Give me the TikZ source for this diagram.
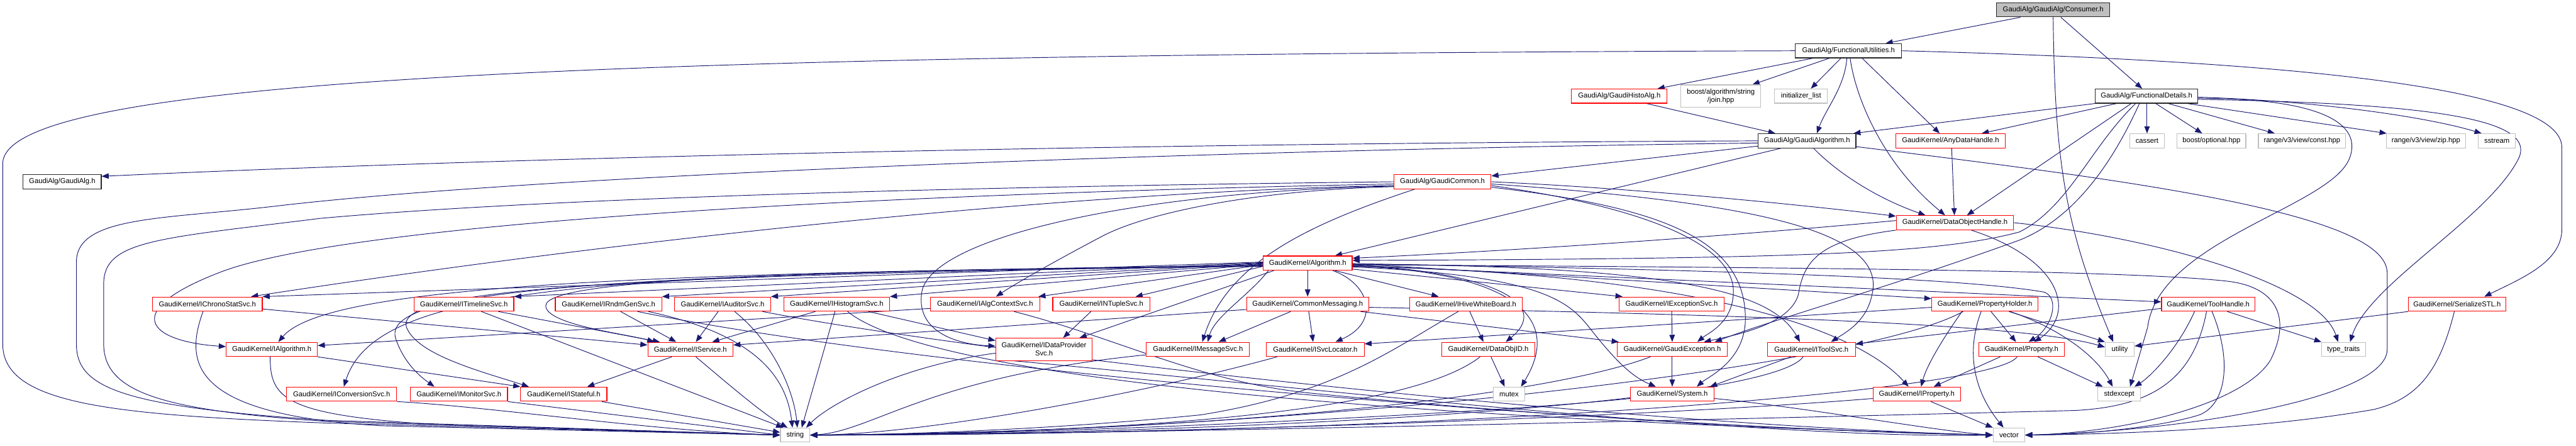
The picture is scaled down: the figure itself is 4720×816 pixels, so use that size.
\documentclass[tikz,border=0pt]{standalone}
\usepackage{fontspec}
\setmainfont{Liberation Sans}
\usetikzlibrary{arrows.meta}
\pgfdeclarelayer{bg}
\pgfsetlayers{bg,main}
\definecolor{edgec}{HTML}{191970}
\definecolor{grayb}{HTML}{BFBFBF}
\definecolor{redb}{HTML}{FF0000}
\begin{document}
\begin{tikzpicture}[x=1pt,y=-1pt,
  boxbase/.style={draw, line width=1.3pt, minimum height=26pt, inner xsep=3pt, inner ysep=0pt,
    font=\fontsize{13}{15}\selectfont, fill=white, align=center},
  redbox/.style={boxbase, draw=redb},
  blackbox/.style={boxbase, draw=black!85},
  graybox/.style={boxbase, draw=grayb},
  consbox/.style={boxbase, draw=black!85, fill=grayb},
  dep/.style={draw=edgec, line width=1.1pt, -{Triangle[length=13pt,width=10pt]}}]
\useasboundingbox (0,0) rectangle (4720,816);

% ---------- nodes ----------
\node[consbox, minimum width=207pt] (cons) at (3762,18) {GaudiAlg/GaudiAlg/Consumer.h};
\node[blackbox, minimum width=195pt] (fu) at (3387,93) {GaudiAlg/FunctionalUtilities.h};
\node[redbox, minimum width=175pt] (histo) at (2967,176) {GaudiAlg/GaudiHistoAlg.h};
\node[graybox, minimum width=146pt, minimum height=41pt] (join) at (3153,176) {boost/algorithm/string\\/join.hpp};
\node[graybox, minimum width=97pt] (initl) at (3300,176) {initializer\_list};
\node[blackbox, minimum width=188pt] (fd) at (3933,176) {GaudiAlg/FunctionalDetails.h};
\node[blackbox, minimum width=143pt] (galg) at (114,333) {GaudiAlg/GaudiAlg.h};
\node[blackbox, minimum width=179pt] (galgorithm) at (3311,258) {GaudiAlg/GaudiAlgorithm.h};
\node[redbox, minimum width=201pt] (anydh) at (3574,258) {GaudiKernel/AnyDataHandle.h};
\node[graybox, minimum width=64pt] (cassert) at (3934,258) {cassert};
\node[graybox, minimum width=126pt] (bopt) at (4052,258) {boost/optional.hpp};
\node[graybox, minimum width=160pt] (rconst) at (4218,258) {range/v3/view/const.hpp};
\node[graybox, minimum width=145pt] (rzip) at (4445,258) {range/v3/view/zip.hpp};
\node[graybox, minimum width=68pt] (sstream) at (4575,258) {sstream};
\node[redbox, minimum width=178pt] (gcommon) at (2643,333) {GaudiAlg/GaudiCommon.h};
\node[redbox, minimum width=215pt] (dohandle) at (3582,408) {GaudiKernel/DataObjectHandle.h};
\node[redbox, minimum width=163pt] (algo) at (2396,482) {GaudiKernel/Algorithm.h};

\node[redbox, minimum width=201pt] (ichrono) at (380,557) {GaudiKernel/IChronoStatSvc.h};
\node[redbox, minimum width=183pt] (itimeline) at (850,557) {GaudiKernel/ITimelineSvc.h};
\node[redbox, minimum width=195pt] (irndm) at (1115,557) {GaudiKernel/IRndmGenSvc.h};
\node[redbox, minimum width=176pt] (iauditor) at (1324,557) {GaudiKernel/IAuditorSvc.h};
\node[redbox, minimum width=194pt] (ihisto) at (1533,557) {GaudiKernel/IHistogramSvc.h};
\node[redbox, minimum width=200pt] (ialgctx) at (1805,557) {GaudiKernel/IAlgContextSvc.h};
\node[redbox, minimum width=178pt] (intuple) at (2018,557) {GaudiKernel/INTupleSvc.h};
\node[redbox, minimum width=224pt] (cmsg) at (2396,557) {GaudiKernel/CommonMessaging.h};
\node[redbox, minimum width=207pt] (ihive) at (2686,557) {GaudiKernel/IHiveWhiteBoard.h};
\node[redbox, minimum width=193pt] (iexc) at (3063,557) {GaudiKernel/IExceptionSvc.h};
\node[redbox, minimum width=195pt] (pholder) at (3637,557) {GaudiKernel/PropertyHolder.h};
\node[redbox, minimum width=171pt] (toolh) at (4046,557) {GaudiKernel/ToolHandle.h};
\node[redbox, minimum width=178pt] (serial) at (4502,557) {GaudiKernel/SerializeSTL.h};

\node[redbox, minimum width=167pt] (ialg) at (498,640) {GaudiKernel/IAlgorithm.h};
\node[redbox, minimum width=156pt] (iservice) at (1265,640) {GaudiKernel/IService.h};
\node[redbox, minimum width=177pt, minimum height=41pt] (idp) at (1913,640) {GaudiKernel/IDataProvider\\Svc.h};
\node[redbox, minimum width=189pt] (imsg) at (2195,640) {GaudiKernel/IMessageSvc.h};
\node[redbox, minimum width=179pt] (isvcloc) at (2410,640) {GaudiKernel/ISvcLocator.h};
\node[redbox, minimum width=171pt] (dobjid) at (2727,640) {GaudiKernel/DataObjID.h};
\node[redbox, minimum width=201pt] (gexc) at (3064,640) {GaudiKernel/GaudiException.h};
\node[redbox, minimum width=161pt] (itoolsvc) at (3319,640) {GaudiKernel/IToolSvc.h};
\node[redbox, minimum width=157pt] (prop) at (3704,640) {GaudiKernel/Property.h};
\node[graybox, minimum width=53pt] (utility) at (3884,640) {utility};
\node[graybox, minimum width=80pt] (typetraits) at (4294,640) {type\_traits};

\node[redbox, minimum width=202pt] (iconv) at (626,722) {GaudiKernel/IConversionSvc.h};
\node[redbox, minimum width=178pt] (imon) at (841,722) {GaudiKernel/IMonitorSvc.h};
\node[redbox, minimum width=158pt] (istate) at (1033,722) {GaudiKernel/IStateful.h};
\node[graybox, minimum width=58pt] (mutex) at (2765,722) {mutex};
\node[redbox, minimum width=153pt] (system) at (3064,722) {GaudiKernel/System.h};
\node[redbox, minimum width=160pt] (iprop) at (3512,722) {GaudiKernel/IProperty.h};
\node[graybox, minimum width=78pt] (stdexcept) at (3883,722) {stdexcept};

\node[graybox, minimum width=54pt] (string) at (1457,797) {string};
\node[graybox, minimum width=58pt] (vector) at (3681,797) {vector};

% ---------- edges ----------
\begin{pgfonlayer}{bg}
% Consumer.h
\draw[dep] ([xshift=-60pt]cons.south) -- ([xshift=68pt]fu.north);
\draw[dep] ([xshift=14pt]cons.south) -- ([xshift=-8pt]fd.north);
\draw[dep] (cons.south) .. controls (3765,300) and (3785,420) .. ([xshift=-12pt]utility.north);
% FunctionalUtilities.h
\draw[dep] (fu.west) .. controls (1000,100) and (5,150) .. (5,300) -- (5,630) .. controls (5,740) and (200,760) .. (600,775) -- (string.west);
\draw[dep] ([xshift=-65pt]fu.south) -- ([xshift=70pt]histo.north);
\draw[dep] ([xshift=-35pt]fu.south) -- ([xshift=58pt]join.north);
\draw[dep] ([xshift=-14pt]fu.south) -- ([xshift=18pt]initl.north);
\draw[dep] ([xshift=-3pt]fu.south) .. controls (3380,160) and (3345,200) .. ([xshift=18pt]galgorithm.north);
\draw[dep] ([xshift=3pt]fu.south) .. controls (3400,180) and (3450,300) .. ([xshift=-18pt]dohandle.north);
\draw[dep] ([xshift=25pt]fu.south) -- ([xshift=-20pt]anydh.north);
\draw[dep] (fu.east) .. controls (4200,112) and (4694,160) .. (4694,270) -- (4694,420) .. controls (4694,480) and (4620,510) .. ([xshift=50pt]serial.north);
% GaudiHistoAlg.h
\draw[dep] ([xshift=50pt]histo.south) -- ([xshift=-58pt]galgorithm.north);
% FunctionalDetails.h
\draw[dep] (fd.south west) -- ([xshift=85pt]galgorithm.north);
\draw[dep] ([xshift=-55pt]fd.south) -- ([xshift=57pt]anydh.north);
\draw[dep] ([xshift=-28pt]fd.south) -- ([xshift=22pt]dohandle.north);
\draw[dep] ([xshift=1pt]fd.south) -- (cassert.north);
\draw[dep] ([xshift=17pt]fd.south) -- ([xshift=-17pt]bopt.north);
\draw[dep] ([xshift=40pt]fd.south) -- ([xshift=-50pt]rconst.north);
\draw[dep] ([xshift=75pt]fd.south) -- ([xshift=-72pt]rzip.north);
\draw[dep] ([yshift=-2pt]fd.east) .. controls (4250,185) and (4450,215) .. ([xshift=-28pt]sstream.north);
\draw[dep] ([yshift=-4pt]fd.east) .. controls (4250,180) and (4330,225) .. (4305,290) .. controls (4270,380) and (3955,440) .. (3935,600) -- ([xshift=20pt]stdexcept.north);
\draw[dep] ([yshift=-6pt]fd.east) .. controls (4500,190) and (4645,225) .. (4615,290) .. controls (4560,400) and (4340,520) .. ([xshift=12pt]typetraits.north);
\draw[dep] ([xshift=-20pt]fd.south) .. controls (3830,270) and (3790,380) .. (3700,425) .. controls (3550,465) and (3300,474) .. ([yshift=5pt]algo.east);
\draw[dep] ([xshift=-13pt]fd.south) .. controls (3870,300) and (3800,400) .. (3700,440) .. controls (3450,530) and (3250,585) .. ([xshift=78pt]gexc.north);
% GaudiAlgorithm.h
\draw[dep] (galgorithm.west) .. controls (2000,263) and (900,290) .. ([yshift=10pt]galg.east);
\draw[dep] ([yshift=-4pt]galgorithm.west) .. controls (2200,275) and (1000,320) .. (510,377) .. controls (300,402) and (140,395) .. (140,480) -- (140,630) .. controls (140,710) and (220,745) .. (600,770) -- (string.west);
\draw[dep] ([yshift=4pt]galgorithm.south west) -- ([yshift=-3pt]gcommon.north east);
\draw[dep] ([xshift=-48pt]galgorithm.south) -- ([xshift=50pt]algo.north);
\draw[dep] ([xshift=12pt]galgorithm.south) .. controls (3360,310) and (3430,360) .. ([xshift=-54pt]dohandle.north);
\draw[dep] ([yshift=3pt]galgorithm.south east) .. controls (3900,330) and (4374,390) .. (4374,500) -- (4374,640) .. controls (4374,730) and (4000,790) .. (vector.east);
% GaudiCommon.h
\draw[dep] (gcommon.west) .. controls (1500,345) and (900,372) .. (587,400) .. controls (290,437) and (190,440) .. (190,520) -- (190,630) .. controls (190,720) and (300,752) .. (600,772) -- (string.west);
\draw[dep] ([yshift=-4pt]gcommon.west) .. controls (1400,360) and (600,420) .. (400,500) .. controls (220,570) and (270,625) .. ([yshift=5pt]ialg.west);
\draw[dep] ([yshift=-7pt]gcommon.west) .. controls (2000,350) and (1200,430) .. ([xshift=80pt]ichrono.north);
\draw[dep] ([yshift=-9pt]gcommon.west) .. controls (2300,348) and (2100,390) .. (2019,433) .. controls (1930,480) and (1860,520) .. ([xshift=20pt]ialgctx.north);
\draw[dep] ([yshift=-8pt]gcommon.west) .. controls (2100,350) and (1720,430) .. (1690,530) .. controls (1675,600) and (1740,630) .. ([yshift=6pt]idp.west);
\draw[dep] ([xshift=-51pt]gcommon.south) .. controls (2400,410) and (2250,480) .. ([xshift=8pt]imsg.north);
\draw[dep] (gcommon.east) .. controls (3000,345) and (3300,375) .. ([yshift=12pt]dohandle.west);
\draw[dep] ([yshift=-4pt]gcommon.east) .. controls (3200,370) and (3460,420) .. (3430,540) .. controls (3420,590) and (3380,610) .. ([xshift=36pt]itoolsvc.north);
\draw[dep] ([yshift=-7pt]gcommon.east) .. controls (2950,370) and (3170,430) .. (3176,530) .. controls (3178,590) and (3130,610) .. ([xshift=46pt]gexc.north);
\draw[dep] ([yshift=-10pt]gcommon.east) .. controls (3050,380) and (3195,440) .. (3198,580) .. controls (3200,660) and (3130,690) .. ([xshift=45pt]system.north);
% DataObjectHandle.h
\draw[dep] ([yshift=4pt]dohandle.west) .. controls (3200,430) and (2800,458) .. ([yshift=9pt]algo.east);
\draw[dep] (dohandle.east) .. controls (3950,435) and (4250,520) .. ([xshift=-10pt]typetraits.north);
\draw[dep] ([xshift=30pt]dohandle.south) .. controls (3700,450) and (3770,500) .. (3772,560) .. controls (3772,595) and (3745,615) .. ([xshift=23pt]prop.north);
\draw[dep] (dohandle.south west) .. controls (3330,440) and (3305,480) .. (3295,540) .. controls (3280,590) and (3200,610) .. ([xshift=58pt]gexc.north);
% AnyDataHandle.h
\draw[dep] ([xshift=2pt]anydh.south) -- ([xshift=-1pt]dohandle.north);
% Algorithm.h
\draw[dep] ([yshift=2pt]algo.west) -- (ichrono.north east);
\draw[dep] ([yshift=1pt]algo.west) -- (itimeline.north east);
\draw[dep] (algo.west) -- (irndm.north east);
\draw[dep] ([yshift=-1pt]algo.west) -- (iauditor.north east);
\draw[dep] ([yshift=-2pt]algo.west) -- (ihisto.north east);
\draw[dep] ([yshift=-3pt]algo.west) -- ([xshift=-3pt]ialgctx.north east);
\draw[dep] ([yshift=-6pt]algo.west) -- ([xshift=-27pt]intuple.north east);
\draw[dep] ([xshift=-62pt]algo.south) -- ([xshift=65pt]idp.north);
\draw[dep] ([yshift=-4pt]algo.west) .. controls (1200,500) and (600,520) .. ([xshift=12pt]ialg.north);
\draw[dep] ([yshift=-5pt]algo.west) .. controls (1100,500) and (690,520) .. ([xshift=4pt]iconv.north);
\draw[dep] ([yshift=-5pt]algo.west) .. controls (1000,500) and (700,540) .. (725,620) .. controls (740,665) and (770,690) .. ([xshift=-45pt]imon.north);
\draw[dep] ([yshift=-5pt]algo.west) .. controls (1100,505) and (720,530) .. (745,600) .. controls (765,650) and (880,680) .. ([xshift=-64pt]istate.north);
\draw[dep] ([yshift=-6pt]algo.west) .. controls (1500,495) and (1000,510) .. (1000,560) .. controls (1000,595) and (1150,612) .. ([xshift=-66pt]iservice.north);
\draw[dep] ([xshift=-72pt]algo.south) .. controls (2290,540) and (2225,580) .. ([xshift=18pt]imsg.north);
\draw[dep] (algo.south) -- (cmsg.north);
\draw[dep] ([xshift=46pt]algo.south) .. controls (2510,520) and (2530,590) .. ([xshift=37pt]isvcloc.north);
\draw[dep] ([xshift=50pt]algo.south) -- ([xshift=-50pt]ihive.north);
\draw[dep] ([yshift=-3pt]algo.east) .. controls (2750,500) and (2840,560) .. ([xshift=32pt]dobjid.north);
\draw[dep] ([yshift=-5pt]algo.east) .. controls (2790,500) and (2860,590) .. ([xshift=22pt]mutex.north);
\draw[dep] ([yshift=-7pt]algo.east) .. controls (2850,505) and (2880,560) .. (2920,610) .. controls (2960,660) and (2990,690) .. ([xshift=-30pt]system.north);
\draw[dep] ([yshift=-11pt]algo.east) -- ([xshift=-90pt]iexc.north);
\draw[dep] ([yshift=-1pt]algo.east) -- ([yshift=10pt]pholder.west);
\draw[dep] ([yshift=-2pt]algo.east) .. controls (3100,487) and (3250,540) .. ([xshift=-21pt]itoolsvc.north);
\draw[dep] ([yshift=-6pt]algo.east) .. controls (3100,500) and (3400,600) .. ([xshift=-15pt]iprop.north);
\draw[dep] ([yshift=-1pt]algo.east) .. controls (3200,495) and (3600,510) .. (3745,535) .. controls (3775,545) and (3760,600) .. ([xshift=13pt]prop.north);
\draw[dep] ([yshift=-4pt]algo.east) -- ([yshift=4pt]toolh.west);
\draw[dep] ([yshift=-3pt]algo.east) .. controls (3300,490) and (3900,495) .. (4080,515) .. controls (4170,525) and (4200,580) .. (4160,660) .. controls (4110,740) and (3900,792) .. (vector.east);
% CommonMessaging.h
\draw[dep] ([xshift=-31pt]cmsg.south) -- ([xshift=38pt]imsg.north);
\draw[dep] ([xshift=2pt]cmsg.south) -- ([xshift=-4pt]isvcloc.north);
\draw[dep] ([yshift=-10pt]cmsg.west) -- ([yshift=8pt]iservice.east);
\draw[dep] ([xshift=97pt]cmsg.south) -- ([xshift=-98pt]gexc.north);
\draw[dep] ([yshift=-6pt]cmsg.east) .. controls (3100,575) and (3700,590) .. ([yshift=4pt]utility.west);
% IHiveWhiteBoard.h
\draw[dep] ([xshift=7pt]ihive.south) -- ([xshift=-9pt]dobjid.north);
\draw[dep] ([xshift=-14pt]ihive.south) .. controls (2550,640) and (2450,720) .. (2200,760) .. controls (1900,790) and (1600,797) .. (string.east);
% DataObjID.h
\draw[dep] ([xshift=5pt]dobjid.south) -- ([xshift=-8pt]mutex.north);
\draw[dep] ([xshift=-15pt]dobjid.south) .. controls (2640,710) and (2400,790) .. (string.east);
% IExceptionSvc.h / GaudiException.h
\draw[dep] (iexc.south) -- (gexc.north);
\draw[dep] (gexc.south) -- (system.north);
\draw[dep] ([xshift=-40pt]gexc.south) .. controls (2850,720) and (2300,790) .. (string.east);
% PropertyHolder.h
\draw[dep] ([yshift=-6pt]pholder.west) -- ([yshift=10pt]isvcloc.east);
\draw[dep] ([xshift=-42pt]pholder.south) .. controls (3560,620) and (3530,670) .. ([xshift=8pt]iprop.north);
\draw[dep] ([xshift=11pt]pholder.south) -- ([xshift=-10pt]prop.north);
\draw[dep] ([xshift=44pt]pholder.south) -- (utility.north west);
\draw[dep] ([xshift=46pt]pholder.south) .. controls (3770,600) and (3840,650) .. ([xshift=-12pt]stdexcept.north);
\draw[dep] ([xshift=-7pt]pholder.south) .. controls (3600,650) and (3620,720) .. ([xshift=-10pt]vector.north);
\draw[dep] ([xshift=-40pt]pholder.south) .. controls (3400,680) and (2300,795) .. (string.east);
% Property.h / IProperty.h
\draw[dep] ([xshift=-39pt]prop.south) -- ([xshift=31pt]iprop.north);
\draw[dep] ([xshift=30pt]prop.south) -- ([xshift=-30pt]stdexcept.north);
\draw[dep] ([xshift=-8pt]prop.south) .. controls (3650,720) and (2600,797) .. (string.east);
\draw[dep] ([yshift=-8pt]iprop.west) .. controls (3000,765) and (2100,797) .. (string.east);
\draw[dep] ([xshift=26pt]iprop.south) -- (vector.north west);
% System.h
\draw[dep] ([yshift=-8pt]system.west) .. controls (2700,760) and (1900,797) .. (string.east);
\draw[dep] ([yshift=-8pt]system.east) .. controls (3300,745) and (3550,790) .. (vector.west);
% IToolSvc.h
\draw[dep] ([xshift=-38pt]itoolsvc.south) -- ([xshift=-8pt]system.north east);
\draw[dep] ([xshift=-15pt]itoolsvc.south) .. controls (3240,740) and (2300,795) .. (string.east);
% ToolHandle.h
\draw[dep] ([yshift=-8pt]toolh.west) -- ([yshift=10pt]itoolsvc.east);
\draw[dep] ([xshift=-25pt]toolh.south) .. controls (3990,640) and (3940,690) .. ([xshift=28pt]stdexcept.north);
\draw[dep] ([xshift=-3pt]toolh.south) .. controls (4020,690) and (3950,745) .. (3800,752) .. controls (3000,772) and (2000,796) .. (string.east);
\draw[dep] ([xshift=7pt]toolh.south) .. controls (4090,660) and (4080,740) .. (4030,760) .. controls (3950,785) and (3800,797) .. (vector.east);
\draw[dep] ([xshift=35pt]toolh.south) -- (typetraits.north west);
% SerializeSTL.h
\draw[dep] (serial.south west) -- ([yshift=6pt]utility.east);
\draw[dep] ([xshift=-5pt]serial.south) .. controls (4470,680) and (4430,730) .. (4350,750) .. controls (4150,785) and (3900,795) .. (vector.east);
% IService.h
\draw[dep] ([xshift=-34pt]iservice.south) -- ([xshift=43pt]istate.north);
\draw[dep] ([xshift=10pt]iservice.south) .. controls (1330,700) and (1400,760) .. ([xshift=-14pt]string.north);
% row of services
\draw[dep] ([xshift=32pt]itimeline.south) -- ([xshift=-22pt]string.north);
\draw[dep] ([xshift=63pt]itimeline.south) -- ([xshift=-56pt]iservice.north);
\draw[dep] ([xshift=22pt]irndm.south) -- ([xshift=-26pt]iservice.north);
\draw[dep] ([xshift=73pt]irndm.south) .. controls (1370,610) and (1440,680) .. ([xshift=-5pt]string.north);
\draw[dep] ([xshift=53pt]irndm.south) .. controls (1700,680) and (3000,785) .. (vector.west);
\draw[dep] ([xshift=-8pt]iauditor.south) -- ([xshift=10pt]iservice.north);
\draw[dep] ([xshift=22pt]iauditor.south) .. controls (1420,630) and (1455,720) .. ([xshift=4pt]string.north);
\draw[dep] ([xshift=73pt]iauditor.south) .. controls (1800,650) and (3000,780) .. (vector.west);
\draw[dep] ([xshift=-39pt]ihisto.south) -- ([xshift=40pt]iservice.north);
\draw[dep] ([xshift=-3pt]ihisto.south) -- ([xshift=12pt]string.north);
\draw[dep] ([xshift=58pt]ihisto.south) -- ([yshift=16pt]idp.west);
\draw[dep] ([xshift=20pt]ihisto.south) .. controls (1700,690) and (2500,765) .. (vector.west);
\draw[dep] ([yshift=-8pt]ialgctx.west) -- ([yshift=7pt]ialg.east);
\draw[dep] ([xshift=53pt]ialgctx.south) .. controls (2050,620) and (2200,700) .. (2400,720) .. controls (2900,770) and (3400,792) .. (vector.west);
\draw[dep] ([xshift=-19pt]intuple.south) -- ([xshift=35pt]idp.north);
% IDataProviderSvc.h
\draw[dep] ([yshift=-7pt]idp.west) .. controls (1650,670) and (1520,740) .. ([xshift=20pt]string.north);
\draw[dep] ([yshift=-18pt]idp.west) .. controls (2300,700) and (3200,805) .. (vector.west);
% IMessageSvc.h / ISvcLocator.h
\draw[dep] ([yshift=-10pt]imsg.west) .. controls (1700,690) and (1600,790) .. (string.east);
\draw[dep] ([xshift=-70pt]isvcloc.south) .. controls (2100,720) and (1700,795) .. (string.east);
% IChronoStatSvc.h
\draw[dep] ([yshift=-9pt]ichrono.east) -- ([yshift=8pt]iservice.west);
\draw[dep] ([xshift=-8pt]ichrono.south) .. controls (340,660) and (340,760) .. (700,780) -- (string.west);
% IAlgorithm.h
\draw[dep] (ialg.south east) -- (istate.north west);
\draw[dep] ([xshift=-3pt]ialg.south) .. controls (495,730) and (520,760) .. (800,778) -- (string.west);
% lower left
\draw[dep] (iconv.south east) .. controls (900,745) and (1200,790) .. (string.west);
\draw[dep] (imon.south east) -- (string.west);
\draw[dep] ([xshift=-10pt]istate.south east) -- ([yshift=5pt]string.west);
\end{pgfonlayer}
\end{tikzpicture}
\end{document}
